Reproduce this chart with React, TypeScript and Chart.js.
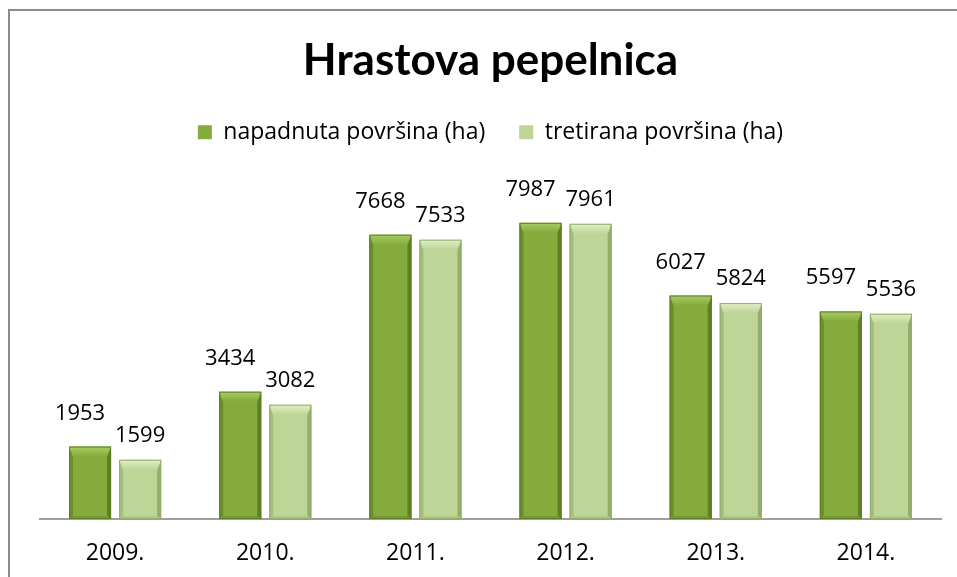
import React, { useEffect, useRef } from "react";
import { Chart, registerables } from "chart.js";

Chart.register(...registerables);

const categories = ["2009.", "2010.", "2011.", "2012.", "2013.", "2014."];
const napadnuta = [1953, 3434, 7668, 7987, 6027, 5597];
const tretirana = [1599, 3082, 7533, 7961, 5824, 5536];
const seriesNames = ["napadnuta površina (ha)", "tretirana površina (ha)"];
const titleText = "Hrastova pepelnica";
const axisMax = 9850;

const FONT = "'Open Sans', sans-serif";
const TITLE_FONT = "Lato, 'Open Sans', sans-serif";

const palettes = [
  { face: "#84AB3B", edge: "#6B8E2B", right: "#5F7F25", top: "#A9CC66", bottom: "#759A33", dx: -10, dy: 27 },
  { face: "#BDD596", edge: "#A3BD7A", right: "#93AE6B", top: "#E3EFC9", bottom: "#AFC888", dx: 0, dy: 18 },
];

const bevelPlugin = {
  id: "bevel",
  afterDatasetsDraw(chart: any) {
    const ctx = chart.ctx;
    chart.data.datasets.forEach((ds: any, di: number) => {
      const meta = chart.getDatasetMeta(di);
      const pal = palettes[di];
      meta.data.forEach((bar: any) => {
        const L = bar.x - bar.width / 2;
        const R = bar.x + bar.width / 2;
        const T = bar.y;
        const B = bar.base;
        const bs = 4;
        const bt = 10;
        ctx.save();
        ctx.fillStyle = pal.edge;
        ctx.beginPath();
        ctx.moveTo(L, T);
        ctx.lineTo(L + bs, T + bt);
        ctx.lineTo(L + bs, B - 3);
        ctx.lineTo(L, B);
        ctx.closePath();
        ctx.fill();
        ctx.fillStyle = pal.right;
        ctx.beginPath();
        ctx.moveTo(R, T);
        ctx.lineTo(R - bs, T + bt);
        ctx.lineTo(R - bs, B - 3);
        ctx.lineTo(R, B);
        ctx.closePath();
        ctx.fill();
        ctx.fillStyle = pal.bottom;
        ctx.beginPath();
        ctx.moveTo(L, B);
        ctx.lineTo(L + bs, B - 3);
        ctx.lineTo(R - bs, B - 3);
        ctx.lineTo(R, B);
        ctx.closePath();
        ctx.fill();
        const g = ctx.createLinearGradient(0, T, 0, T + bt);
        g.addColorStop(0, pal.top);
        g.addColorStop(1, pal.face);
        ctx.fillStyle = g;
        ctx.beginPath();
        ctx.moveTo(L, T);
        ctx.lineTo(R, T);
        ctx.lineTo(R - bs, T + bt);
        ctx.lineTo(L + bs, T + bt);
        ctx.closePath();
        ctx.fill();
        ctx.strokeStyle = pal.right;
        ctx.lineWidth = 1;
        ctx.strokeRect(L + 0.5, T + 0.5, R - L - 1, B - T - 1);
        ctx.restore();
      });
    });
    ctx.save();
    ctx.font = `22px ${FONT}`;
    ctx.fillStyle = "#000";
    ctx.textAlign = "center";
    ctx.textBaseline = "alphabetic";
    chart.data.datasets.forEach((ds: any, di: number) => {
      const meta = chart.getDatasetMeta(di);
      const pal = palettes[di];
      meta.data.forEach((bar: any, i: number) => {
        ctx.fillText(String(ds.data[i]), bar.x + pal.dx, bar.y - pal.dy);
      });
    });
    ctx.restore();
  },
};

const framePlugin = {
  id: "frame",
  beforeDraw(chart: any) {
    const ctx = chart.ctx;
    ctx.save();
    ctx.fillStyle = "#fff";
    ctx.fillRect(0, 0, chart.width, chart.height);
    ctx.strokeStyle = "#8C8C8C";
    ctx.lineWidth = 2;
    ctx.beginPath();
    ctx.moveTo(9, chart.height + 5);
    ctx.lineTo(9, 10);
    ctx.lineTo(chart.width + 5, 10);
    ctx.stroke();
    ctx.restore();
  },
};

export default function App() {
  const ref = useRef<HTMLCanvasElement>(null);
  useEffect(() => {
    if (!ref.current) return;
    const chart = new Chart(ref.current, {
      type: "bar",
      data: {
        labels: categories,
        datasets: [
          {
            label: seriesNames[0],
            data: napadnuta,
            backgroundColor: palettes[0].face,
            borderWidth: 0,
            categoryPercentage: 0.667,
            barPercentage: 0.84,
          },
          {
            label: seriesNames[1],
            data: tretirana,
            backgroundColor: palettes[1].face,
            borderWidth: 0,
            categoryPercentage: 0.667,
            barPercentage: 0.84,
          },
        ],
      },
      options: {
        animation: false,
        responsive: false,
        layout: { padding: { left: 40, right: 16, top: 0, bottom: 0 } },
        plugins: {
          title: {
            display: true,
            text: titleText,
            color: "#000",
            font: { family: TITLE_FONT, size: 44, weight: "bold" },
            padding: { top: 34, bottom: 0 },
          },
          legend: {
            display: true,
            position: "top",
            labels: {
              color: "#000",
              font: { family: FONT, size: 23 },
              boxWidth: 14,
              boxHeight: 14,
              padding: 34,
            },
          },
          tooltip: { enabled: false },
        },
        scales: {
          x: {
            grid: { display: false, drawTicks: false },
            border: { display: true, color: "#9E9E9E", width: 2 },
            ticks: { color: "#000", font: { family: FONT, size: 23 }, padding: 21 },
            afterFit: (scale: any) => {
              scale.height = 58;
            },
          },
          y: {
            display: false,
            min: 0,
            max: axisMax,
          },
        },
      },
      plugins: [framePlugin, bevelPlugin],
    });
    return () => chart.destroy();
  }, []);
  return (
    <div style={{ position: "fixed", left: 0, top: 0, width: 957, height: 577, background: "#fff" }}>
      <canvas ref={ref} width={957} height={577} style={{ width: 957, height: 577, display: "block" }} />
    </div>
  );
}
